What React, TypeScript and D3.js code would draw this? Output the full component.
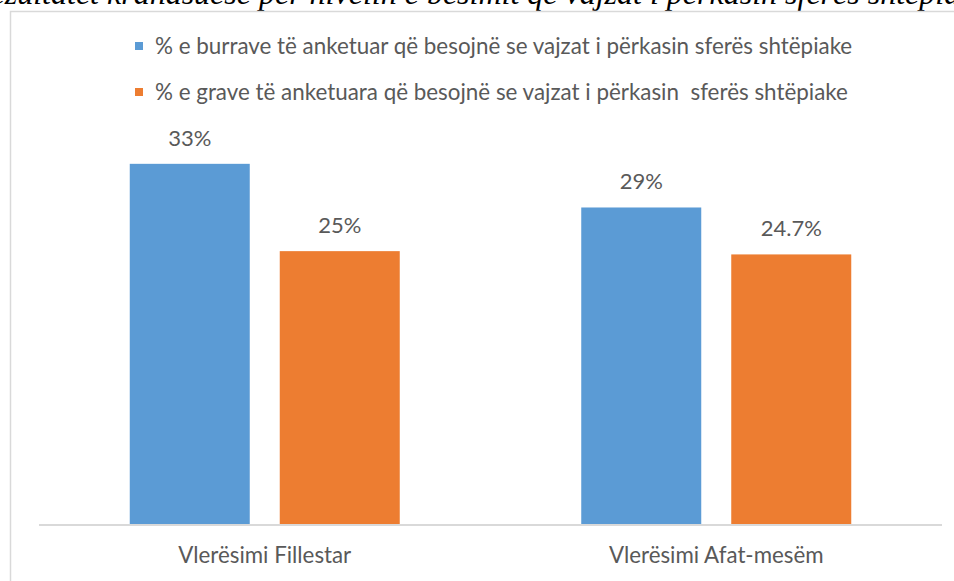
import * as d3 from 'd3';

const categories = ['Vlerësimi Fillestar', 'Vlerësimi Afat-mesëm'];
const seriesNames = [
  '% e burrave të anketuar që besojnë se vajzat i përkasin sferës shtëpiake',
  '% e grave të anketuara që besojnë se vajzat i përkasin  sferës shtëpiake',
];
const menValues = [33, 29];
const womenValues = [25, 24.7];
const valueLabels = [
  ['33%', '29%'],
  ['25%', '24.7%'],
];
const colors = ['#5b9bd5', '#ed7d31'];
const title = 'Rezultatet krahasuese për nivelin e besimit që vajzat i përkasin sferës shtëpiake';

const W = 954;
const H = 581;
const FONT = 'Lato, "Noto Sans", sans-serif';
const TEXT = '#595959';

const App = () => {
  const values = [menValues, womenValues];

  // scales
  const x0 = d3.scaleBand<string>().domain(categories).range([39, 942]).padding(0);
  const step = x0.bandwidth();
  const x1 = d3
    .scaleBand<string>()
    .domain(seriesNames)
    .range([step * 0.201, step * 0.799])
    .paddingInner(0.2);
  const y = d3.scaleLinear().domain([0, 35]).range([524, 142]);

  return (
    <svg width={W} height={H} style={{ position: 'absolute', left: 0, top: 0 }}>
      <rect x={0} y={0} width={W} height={H} fill='#fff' />
      {/* clipped title from the page above */}
      <text x={-29} y={3.5} fontFamily='"Liberation Serif", serif' fontStyle='italic' fontSize={32} fill='#000'>
        {title}
      </text>
      <rect x={10.5} y={11.5} width={980} height={620} fill='none' stroke='#d9d9d9' strokeWidth={1.5} />

      {/* legend */}
      {seriesNames.map((s, i) => (
        <g key={s} transform={`translate(135, ${46 + i * 46})`}>
          <rect x={0} y={-4} width={8} height={8} fill={colors[i]} />
          <text
            x={20}
            y={0}
            dy='0.35em'
            fontFamily={FONT}
            fontSize={22.4}
            fill={TEXT}
            style={{ whiteSpace: 'pre' }}
          >
            {s}
          </text>
        </g>
      ))}

      {/* bars */}
      {categories.map((c, ci) => (
        <g key={c} transform={`translate(${x0(c)}, 0)`}>
          {seriesNames.map((s, si) => {
            const v = values[si][ci];
            const bx = x1(s) ?? 0;
            return (
              <g key={s}>
                <rect x={bx} y={y(v)} width={x1.bandwidth()} height={y(0) - y(v)} fill={colors[si]} />
                <text
                  x={bx + x1.bandwidth() / 2}
                  y={y(v) - 18}
                  textAnchor='middle'
                  fontFamily={FONT}
                  fontSize={22}
                  fill={TEXT}
                >
                  {valueLabels[si][ci]}
                </text>
              </g>
            );
          })}
          <text
            x={step / 2}
            y={563}
            textAnchor='middle'
            fontFamily={FONT}
            fontSize={22.3}
            fill={TEXT}
          >
            {c}
          </text>
        </g>
      ))}

      {/* category axis */}
      <line x1={39} x2={942} y1={y(0) + 1} y2={y(0) + 1} stroke='#d9d9d9' strokeWidth={2} />
    </svg>
  );
};

export default App;
